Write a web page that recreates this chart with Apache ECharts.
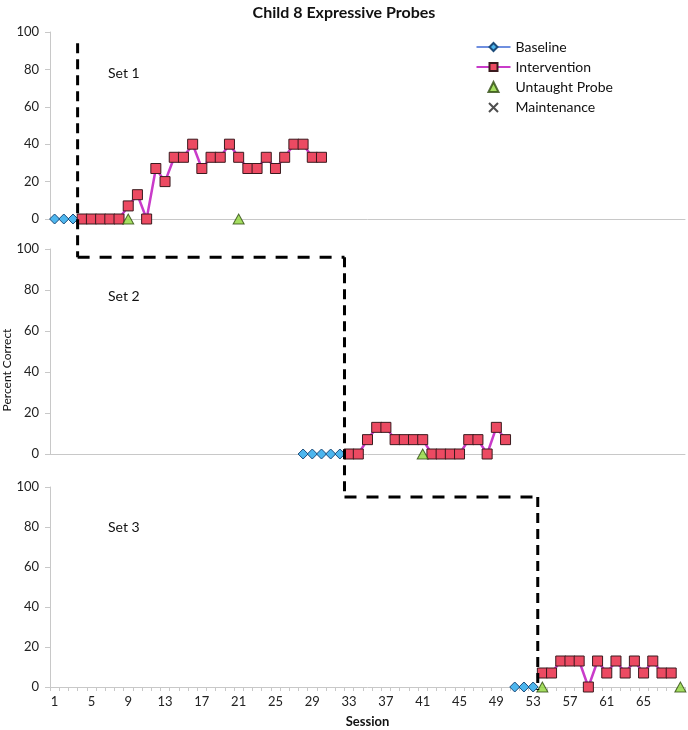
<!DOCTYPE html>
<html><head><meta charset="utf-8">
<script src="https://cdn.jsdelivr.net/npm/echarts@6/dist/echarts.min.js"></script>
<style>html,body{margin:0;padding:0;background:#fff}#c{width:688px;height:730px}</style>
</head><body><div id="c"></div>
<script>
const sessions = ['1','2','3','4','5','6','7','8','9','10','11','12','13','14','15','16','17','18','19','20',
  '21','22','23','24','25','26','27','28','29','30','31','32','33','34','35','36','37','38','39','40',
  '41','42','43','44','45','46','47','48','49','50','51','52','53','54','55','56','57','58','59','60',
  '61','62','63','64','65','66','67','68','69'];
const xTickLabels = ['1','5','9','13','17','21','25','29','33','37','41','45','49','53','57','61','65'];
const setNames = ['Set 1','Set 2','Set 3'];

// [session, percent correct]
const set1Baseline = [[1,0],[2,0],[3,0]];
const set1Intervention = [[4,0],[5,0],[6,0],[7,0],[8,0],[9,7],[10,13],[11,0],[12,27],[13,20],[14,33],[15,33],
  [16,40],[17,27],[18,33],[19,33],[20,40],[21,33],[22,27],[23,27],[24,33],[25,27],[26,33],[27,40],[28,40],[29,33],[30,33]];
const set1Probe = [[9,0],[21,0]];

const set2Baseline = [[28,0],[29,0],[30,0],[31,0],[32,0]];
const set2Intervention = [[33,0],[34,0],[35,7],[36,13],[37,13],[38,7],[39,7],[40,7],[41,7],[42,0],[43,0],[44,0],
  [45,0],[46,7],[47,7],[48,0],[49,13],[50,7]];
const set2Probe = [[41,0]];

const set3Baseline = [[51,0],[52,0],[53,0]];
const set3Intervention = [[54,7],[55,7],[56,13],[57,13],[58,13],[59,0],[60,13],[61,7],[62,13],[63,7],[64,13],
  [65,7],[66,13],[67,7],[68,7]];
const set3Probe = [[54,0],[69,0]];

const maintenance = [];

// phase-change line: session boundaries and the level (per panel) of the steps
const phaseAfterSession = [3, 32, 53];
const phaseTopLevel = 94;
const phaseStepLevels = [96, 95];
const setLabelLevels = [78, 77, 80];

const FONT = 'Lato';
const grids = [
  {left: 50, right: 3, top: 32, height: 187},
  {left: 50, right: 3, top: 249, height: 205},
  {left: 50, right: 3, top: 487, height: 200}
];
const toCat = arr => arr.map(d => [String(d[0]), d[1]]);
const TRI = 'path://M0,10L5,0L10,10Z';
const CROSS = 'path://M0,0L10,10M10,0L0,10';

const chart = echarts.init(document.getElementById('c'), null, {renderer: 'canvas'});

const xAxes = grids.map((g, i) => ({
  type: 'category', gridIndex: i, data: sessions, boundaryGap: true,
  axisLine: {show: true, lineStyle: {color: '#C8C8C8', width: 1}},
  axisTick: {show: i === 2, interval: 0, length: 4, lineStyle: {color: '#C8C8C8'}},
  axisLabel: {show: i === 2, interval: 0, margin: 8, color: '#222', fontFamily: FONT, fontSize: 13,
    formatter: v => xTickLabels.indexOf(v) >= 0 ? v : ''},
  splitLine: {show: false},
  name: i === 2 ? 'Session' : '', nameLocation: 'middle', nameGap: 28,
  nameTextStyle: {fontFamily: FONT, fontWeight: 'bold', fontSize: 13, color: '#111'}
}));
const yAxes = grids.map((g, i) => ({
  type: 'value', gridIndex: i, min: 0, max: 100, interval: 20,
  axisLine: {show: true, lineStyle: {color: '#C8C8C8', width: 1}},
  axisTick: {show: true, length: 5, lineStyle: {color: '#C8C8C8'}},
  axisLabel: {margin: 11, color: '#222', fontFamily: FONT, fontSize: 13},
  splitLine: {show: false}
}));

const baseStyle = {
  type: 'line', symbol: 'diamond', symbolSize: [10, 10], showAllSymbol: true,
  lineStyle: {color: '#6F8FDF', width: 2},
  itemStyle: {color: '#4DB6EE', borderColor: '#1D4C7A', borderWidth: 1}
};
const intStyle = {
  type: 'line', symbol: 'rect', symbolSize: 10, showAllSymbol: true,
  lineStyle: {color: '#C93BC9', width: 2.5},
  itemStyle: {color: '#EC4A62', borderColor: '#3A1A1E', borderWidth: 1}
};
const probeStyle = {
  type: 'scatter', symbol: TRI, symbolSize: [11, 10], symbolKeepAspect: true,
  itemStyle: {color: '#8ED63A', borderColor: '#2E4A10', borderWidth: 1}
};

const series = [];
[[set1Baseline, set1Intervention, set1Probe], [set2Baseline, set2Intervention, set2Probe],
 [set3Baseline, set3Intervention, set3Probe]].forEach((sets, i) => {
  series.push(Object.assign({name: 'Baseline', xAxisIndex: i, yAxisIndex: i, data: toCat(sets[0]), z: 3}, baseStyle));
  series.push(Object.assign({name: 'Intervention', xAxisIndex: i, yAxisIndex: i, data: toCat(sets[1]), z: 4}, intStyle));
  series.push(Object.assign({name: 'Untaught Probe', xAxisIndex: i, yAxisIndex: i, data: toCat(sets[2]), z: 5}, probeStyle));
});
series.push({name: 'Maintenance', type: 'scatter', xAxisIndex: 0, yAxisIndex: 0, data: maintenance,
  symbol: CROSS, symbolSize: 9, symbolKeepAspect: true,
  itemStyle: {color: 'none', borderColor: '#222', borderWidth: 1.3}});

chart.setOption({
  animation: false,
  backgroundColor: '#fff',
  title: {text: 'Child 8 Expressive Probes', left: 'center', top: 0,
    textStyle: {fontFamily: FONT, fontWeight: 'bold', fontSize: 16, color: '#111'}},
  legend: {
    orient: 'vertical', left: 474, top: 40, padding: 0, itemWidth: 34, itemHeight: 10, itemGap: 6,
    data: ['Baseline', 'Intervention',
      {name: 'Untaught Probe', icon: 'path://M0,0M34,10M12,10L17,0L22,10Z'},
      {name: 'Maintenance', icon: 'path://M0,0M34,10M12.5,0.5L21.5,9.5M21.5,0.5L12.5,9.5'}],
    textStyle: {fontFamily: FONT, fontSize: 14, color: '#111'}, selectedMode: false
  },
  grid: grids,
  xAxis: xAxes,
  yAxis: yAxes,
  series: series
});

function pt(g, sessionIdx, value) {
  return chart.convertToPixel({gridIndex: g}, [sessionIdx, value]);
}
function between(g, afterSession, value) {
  const a = pt(g, afterSession - 1, value);
  const b = pt(g, afterSession, value);
  return [(a[0] + b[0]) / 2, a[1]];
}
const p1 = between(0, phaseAfterSession[0], phaseTopLevel);
const p2 = between(1, phaseAfterSession[0], phaseStepLevels[0]);
const p3 = between(1, phaseAfterSession[1], phaseStepLevels[0]);
const p4 = between(2, phaseAfterSession[1], phaseStepLevels[1]);
const p5 = between(2, phaseAfterSession[2], phaseStepLevels[1]);
const p6 = between(2, phaseAfterSession[2], -1.5);

const dashV = {stroke: '#000', lineWidth: 3, lineDash: [10, 6], fill: null};
const dashH = {stroke: '#000', lineWidth: 3, lineDash: [12, 10], fill: null};
const seg = (a, b, st) => ({type: 'polyline', z: 100, shape: {points: [a, b]}, style: st, silent: true});

const setLabels = setNames.map((t, i) => {
  const p = pt(i, 5, setLabelLevels[i]);
  return {type: 'text', x: 108, y: p[1], z: 100,
    style: {text: t, fontFamily: FONT, fontSize: 14, fill: '#111', verticalAlign: 'middle'}};
});

chart.setOption({
  graphic: [
    seg(p1, p2, dashV), seg(p2, p3, dashH), seg(p3, p4, dashV), seg(p4, p5, dashH), seg(p5, p6, dashV),
    ...setLabels,
    {type: 'text', x: 1, y: 370, rotation: Math.PI / 2, z: 100,
      style: {text: 'Percent Correct', fontFamily: FONT, fontSize: 12, fill: '#111', align: 'center', verticalAlign: 'top'}}
  ]
});
</script></body></html>
